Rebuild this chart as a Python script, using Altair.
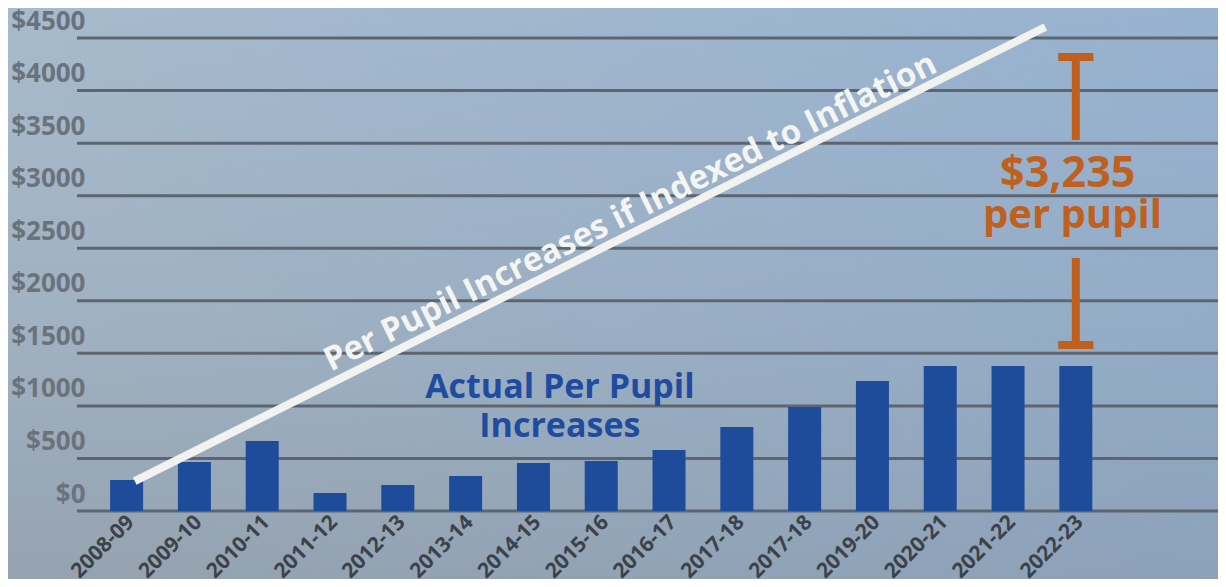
import altair as alt
import pandas as pd

# ---------------- data ----------------
years = ["2008-09", "2009-10", "2010-11", "2011-12", "2012-13", "2013-14",
         "2014-15", "2015-16", "2016-17", "2017-18", "2017-18", "2019-20",
         "2020-21", "2021-22", "2022-23"]
increases = [295, 466, 666, 171, 247, 333, 457, 476, 580, 799, 990, 1237,
             1380, 1380, 1380]
y_ticks = [0, 500, 1000, 1500, 2000, 2500, 3000, 3500, 4000, 4500]

# inflation-indexed line (start / end), in bar-index and dollar units
inflation_x = [0.12, 13.55]
inflation_y = [285, 4605]
inflation_label = "Per Pupil Increases if Indexed to Inflation"

actual_label = ["Actual Per Pupil", "Increases"]
gap_label = ["$3,235", "per pupil"]
# gap bracket (top cap at inflation level, bottom cap above last bar)
gap_top = 4320
gap_text_top = 3530
gap_text_bottom = 2407
gap_bottom = 1580

# ---------------- layout ----------------
W, H = 1141, 503
PAD_L, PAD_B = 69, 68
X_DOMAIN = [-0.658, 16.023]
Y_DOMAIN = [0, 4786]
FONT = "Open Sans"

xscale = alt.Scale(domain=X_DOMAIN, nice=False, zero=False)
yscale = alt.Scale(domain=Y_DOMAIN, nice=False, zero=False)

label_array = "[" + ",".join("'" + y + "'" for y in years) + "]"

bars_df = pd.DataFrame({"x": list(range(len(years))), "y": increases})
grid_df = pd.DataFrame({"y": y_ticks})
line_df = pd.DataFrame({"x": inflation_x, "y": inflation_y})

one = alt.Data(values=[{"a": 1}])

background = alt.Chart(one).mark_rect(
    color=alt.Gradient(
        gradient="linear",
        stops=[alt.GradientStop(color="#a8bbcc", offset=0),
               alt.GradientStop(color="#a0b1c1", offset=0.55),
               alt.GradientStop(color="#95a3b0", offset=1)],
        x1=0, x2=0, y1=0, y2=1)
).encode(x=alt.value(-PAD_L), x2=alt.value(W), y=alt.value(0), y2=alt.value(H + PAD_B))

tint = alt.Chart(one).mark_rect(
    color=alt.Gradient(
        gradient="linear",
        stops=[alt.GradientStop(color="rgba(115,158,215,0)", offset=0),
               alt.GradientStop(color="rgba(115,158,215,0.32)", offset=1)],
        x1=0, x2=1, y1=0.2, y2=0)
).encode(x=alt.value(-PAD_L), x2=alt.value(W), y=alt.value(0), y2=alt.value(H + PAD_B))

grid = alt.Chart(grid_df).mark_rule(color="#5d6670", strokeWidth=3).encode(
    y=alt.Y("y:Q", scale=yscale),
    x=alt.value(0), x2=alt.value(W))

bars = alt.Chart(bars_df).mark_bar(width=33, color="#1f4b9b").encode(
    x=alt.X("x:Q", scale=xscale, title=None,
            axis=alt.Axis(values=list(range(len(years))),
                          labelExpr=label_array + "[datum.value]",
                          labelAngle=315, labelAlign="right", labelBaseline="top",
                          labelFont=FONT, labelFontSize=21, labelFontWeight="bold",
                          labelColor="#3b424a", labelPadding=0, labelOffset=-4,
                          domain=False, ticks=False, grid=False, zindex=1,
                          labelOverlap=False)),
    y=alt.Y("y:Q", scale=yscale, title=None,
            axis=alt.Axis(values=y_ticks, labelExpr="'$' + datum.value",
                          labelFont=FONT, labelFontSize=26, labelFontWeight="bold",
                          labelColor="#6a737c", labelPadding=-8, labelOffset=-17,
                          labelAlign="right",
                          domain=False, ticks=False, grid=False, zindex=1,
                          labelOverlap=False)))

line = alt.Chart(line_df).mark_line(color="#f2f2f0", strokeWidth=8, strokeCap="butt").encode(
    x=alt.X("x:Q", scale=xscale), y=alt.Y("y:Q", scale=yscale))

infl_text = alt.Chart(pd.DataFrame({"x": [7.43], "y": [2840], "t": [inflation_label]})).mark_text(
    angle=333.7, font=FONT, fontSize=33, fontWeight="bold", color="#f4f4f2",
    align="center", baseline="middle").encode(
    x=alt.X("x:Q", scale=xscale), y=alt.Y("y:Q", scale=yscale), text="t:N")

actual_text = alt.Chart(pd.DataFrame({"x": [6.39, 6.39], "y": [1175, 795], "t": actual_label})).mark_text(
    font=FONT, fontSize=34, fontWeight="bold", color="#1f4c9e",
    align="center", baseline="middle").encode(
    x=alt.X("x:Q", scale=xscale), y=alt.Y("y:Q", scale=yscale), text="t:N")

ORANGE = "#c0601f"
gap_text = alt.Chart(pd.DataFrame({"x": [13.88, 13.95], "y": [3083, 2693], "t": gap_label,
                                   "s": [43, 40]})).mark_text(
    font=FONT, fontWeight="bold", color=ORANGE, align="center", baseline="alphabetic").encode(
    x=alt.X("x:Q", scale=xscale), y=alt.Y("y:Q", scale=yscale), text="t:N",
    size=alt.Size("s:Q", scale=None, legend=None))

last = len(years) - 1
stem_df = pd.DataFrame({"x": [last, last], "y": [gap_top, gap_text_bottom],
                        "y2": [gap_text_top, gap_bottom]})
stems = alt.Chart(stem_df).mark_rule(color=ORANGE, strokeWidth=8).encode(
    x=alt.X("x:Q", scale=xscale), y=alt.Y("y:Q", scale=yscale), y2="y2:Q")

cap_df = pd.DataFrame({"x": [last - 0.26, last - 0.26], "x2": [last + 0.26, last + 0.26],
                       "y": [gap_top, gap_bottom]})
caps = alt.Chart(cap_df).mark_rule(color=ORANGE, strokeWidth=8).encode(
    x=alt.X("x:Q", scale=xscale), x2="x2:Q", y=alt.Y("y:Q", scale=yscale))

chart = alt.layer(background, tint, grid, bars, line, infl_text, actual_text,
                  stems, caps, gap_text).properties(
    width=W, height=H,
    autosize=alt.AutoSizeParams(type="none"),
    padding={"left": PAD_L, "top": 0, "right": 0, "bottom": PAD_B},
).configure_view(stroke=None).configure(background="#9fb1c2")

chart.save("out.html", embed_options={"renderer": "svg", "actions": False})
